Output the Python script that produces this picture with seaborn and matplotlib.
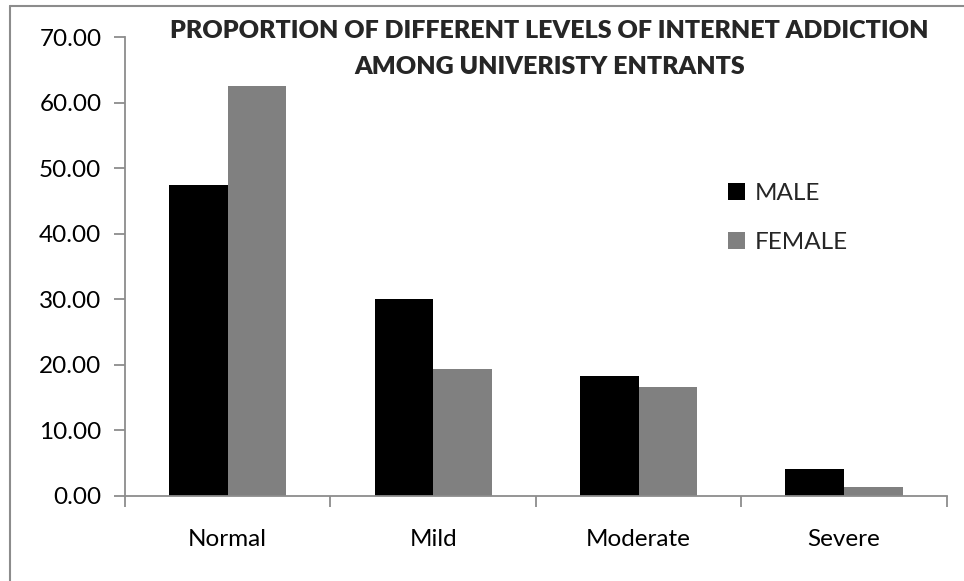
import matplotlib
matplotlib.use("Agg")
import matplotlib.pyplot as plt
import seaborn as sns
import pandas as pd
from matplotlib.lines import Line2D
from matplotlib.ticker import FormatStrFormatter, FixedLocator

categories = ["Normal", "Mild", "Moderate", "Severe"]
male = [47.5, 30.0, 18.3, 4.1]
female = [62.5, 19.4, 16.6, 1.3]
series = ["MALE", "FEMALE"]
title_lines = ["PROPORTION OF DIFFERENT LEVELS OF INTERNET ADDICTION",
               "AMONG UNIVERISTY ENTRANTS"]

df = pd.DataFrame({
    "Level": categories * 2,
    "Value": male + female,
    "Sex": [series[0]] * len(categories) + [series[1]] * len(categories),
})

sns.set_theme(style="white")
plt.rcParams["font.family"] = ["Lato", "DejaVu Sans"]

W, H = 964, 581
fig = plt.figure(figsize=(W / 100, H / 100), dpi=100)
ax = fig.add_axes([125 / W, 1 - 496 / H, (946.7 - 125) / W, (496 - 37) / H])

sns.barplot(data=df, x="Level", y="Value", hue="Sex", order=categories,
            hue_order=series, palette={"MALE": "#000000", "FEMALE": "#808080"},
            width=0.57, saturation=1, gap=0, ax=ax, legend=True, linewidth=0)

ax.set_xlim(-0.5, 3.5)
ax.set_ylim(0, 70)
ax.set_yticks(range(0, 71, 10))
ax.yaxis.set_major_formatter(FormatStrFormatter("%.2f"))
ax.set_xlabel("")
ax.set_ylabel("")

for s in ["top", "right"]:
    ax.spines[s].set_visible(False)
for s in ["left", "bottom"]:
    ax.spines[s].set_color("#8c8c8c")
    ax.spines[s].set_linewidth(1.3)

ax.tick_params(axis="y", which="major", left=True, length=8, width=1.3,
               color="#8c8c8c", labelsize=17.5, pad=9, labelcolor="black")
ax.tick_params(axis="x", which="major", bottom=False, length=0, labelsize=17.5,
               pad=24, labelcolor="black")
ax.xaxis.set_minor_locator(FixedLocator([-0.5, 0.5, 1.5, 2.5, 3.5]))
ax.tick_params(axis="x", which="minor", bottom=True, length=8, width=1.3,
               color="#8c8c8c", direction="out")

handles, labels = ax.get_legend_handles_labels()
ax.legend(handles, labels, loc="center left",
          bbox_to_anchor=(718 / W, 1 - 218 / H), bbox_transform=fig.transFigure,
          frameon=False, fontsize=17.5, handlelength=0.7, handleheight=0.7,
          handletextpad=0.4, labelspacing=1.15, borderaxespad=0)

fig.text(549.5 / W, 1 - 30.5 / H, title_lines[0], ha="center", va="center",
         fontsize=18, fontweight="heavy")
fig.text(549.5 / W, 1 - 66.5 / H, title_lines[1], ha="center", va="center",
         fontsize=18, fontweight="heavy")

# chart-area border (left and top edges visible)
fig.add_artist(Line2D([10 / W, 10 / W], [0, 1 - 6 / H], transform=fig.transFigure,
                      color="#8c8c8c", linewidth=1.5))
fig.add_artist(Line2D([10 / W, 1], [1 - 6 / H, 1 - 6 / H], transform=fig.transFigure,
                      color="#8c8c8c", linewidth=1.5))

fig.savefig("out.png", dpi=100)
